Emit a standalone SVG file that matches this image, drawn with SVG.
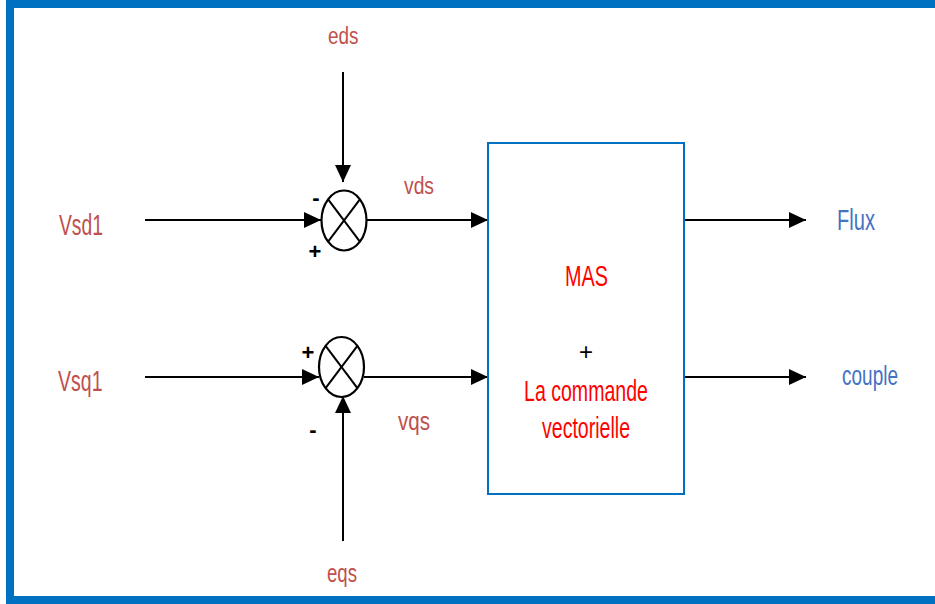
<svg xmlns="http://www.w3.org/2000/svg" width="935" height="604" viewBox="0 0 935 604">
<style>
.ln{stroke:#000;stroke-width:2;fill:none}
.sum{stroke:#000;stroke-width:2.2;fill:#fff}
.t{font-family:"Liberation Sans",Arial,sans-serif}
.br{fill:#C0504D}
.rd{fill:#FF0000}
.bl{fill:#4472C4}
.sg{font-family:"Liberation Sans",Arial,sans-serif;font-weight:bold;fill:#000;font-size:22px;text-anchor:middle}
</style>
<defs>
<marker id="arr" markerUnits="userSpaceOnUse" markerWidth="18" markerHeight="16" refX="17" refY="8" orient="auto">
<path d="M0,0 L17,8 L0,16 Z" fill="#000"/>
</marker>
</defs>
<rect x="0" y="0" width="935" height="604" fill="#fff"/>
<rect id="frame" x="10" y="4" width="945" height="596" fill="none" stroke="#0070C0" stroke-width="8"/>

<g id="connectors">
<line class="ln" x1="145" y1="220" x2="321" y2="220" marker-end="url(#arr)"/>
<line class="ln" x1="145" y1="377" x2="319" y2="377" marker-end="url(#arr)"/>
<line class="ln" x1="343" y1="72" x2="343" y2="182" marker-end="url(#arr)"/>
<line class="ln" x1="343" y1="541" x2="343" y2="396" marker-end="url(#arr)"/>
<line class="ln" x1="367" y1="220" x2="488" y2="220" marker-end="url(#arr)"/>
<line class="ln" x1="364" y1="377" x2="488" y2="377" marker-end="url(#arr)"/>
<line class="ln" x1="684" y1="220" x2="806" y2="220" marker-end="url(#arr)"/>
<line class="ln" x1="684" y1="377" x2="806" y2="377" marker-end="url(#arr)"/>
</g>

<g id="sum1">
<ellipse class="sum" cx="344" cy="220.5" rx="22.5" ry="30"/>
<line class="ln" x1="328.1" y1="199.3" x2="359.9" y2="241.7"/>
<line class="ln" x1="359.9" y1="199.3" x2="328.1" y2="241.7"/>
<text class="sg" x="316" y="205">-</text>
<text class="sg" x="315" y="259">+</text>
</g>

<g id="sum2">
<ellipse class="sum" cx="341.5" cy="367" rx="22.5" ry="30"/>
<line class="ln" x1="325.6" y1="345.8" x2="357.4" y2="388.2"/>
<line class="ln" x1="357.4" y1="345.8" x2="325.6" y2="388.2"/>
<text class="sg" x="308" y="360">+</text>
<text class="sg" x="313" y="437">-</text>
</g>

<g id="block">
<rect x="488" y="143" width="196" height="351" fill="#fff" stroke="#0070C0" stroke-width="2"/>
<text class="t rd" x="565" y="286" font-size="30" textLength="43" lengthAdjust="spacingAndGlyphs">MAS</text>
<text class="t" x="586" y="360" font-size="24" text-anchor="middle" fill="#000">+</text>
<text class="t rd" x="524" y="401" font-size="29" textLength="124" lengthAdjust="spacingAndGlyphs">La commande</text>
<text class="t rd" x="542" y="438" font-size="29" textLength="88" lengthAdjust="spacingAndGlyphs">vectorielle</text>
</g>

<g id="labels">
<text class="t br" x="59" y="235" font-size="30" textLength="44" lengthAdjust="spacingAndGlyphs">Vsd1</text>
<text class="t br" x="58" y="391" font-size="30" textLength="44.5" lengthAdjust="spacingAndGlyphs">Vsq1</text>
<text class="t br" x="328" y="44" font-size="23" textLength="30.5" lengthAdjust="spacingAndGlyphs">eds</text>
<text class="t br" x="327" y="582" font-size="25" textLength="30" lengthAdjust="spacingAndGlyphs">eqs</text>
<text class="t br" x="404" y="194" font-size="23" textLength="30" lengthAdjust="spacingAndGlyphs">vds</text>
<text class="t br" x="398" y="430" font-size="25" textLength="32" lengthAdjust="spacingAndGlyphs">vqs</text>
<text class="t bl" x="837" y="230" font-size="30" textLength="38" lengthAdjust="spacingAndGlyphs">Flux</text>
<text class="t bl" x="842" y="385" font-size="27" textLength="56" lengthAdjust="spacingAndGlyphs">couple</text>
</g>
</svg>
